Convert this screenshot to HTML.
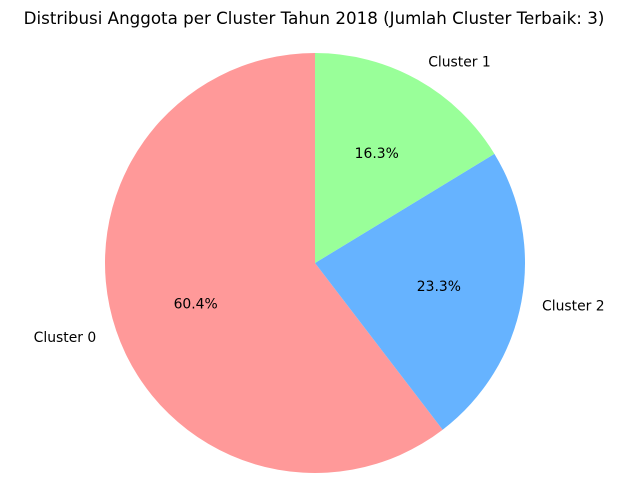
<!DOCTYPE html>
<html><head><meta charset="utf-8"><style>
html,body{margin:0;padding:0;background:#fff;}
svg{display:block;font-family:"DejaVu Sans","Liberation Sans",sans-serif;}
</style></head><body>
<svg id="chart" width="627" height="483" viewBox="0 0 627 483" xmlns="http://www.w3.org/2000/svg">
<text x="314" y="24" text-anchor="middle" font-size="16.7" fill="#000">Distribusi Anggota per Cluster Tahun 2018 (Jumlah Cluster Terbaik: 3)</text>
<g id="slices"></g>
<g id="labels"></g>
</svg>
<script>
const categories = ["Cluster 0", "Cluster 2", "Cluster 1"];
const values = [60.4, 23.3, 16.3];
const colors = ["#ff9999", "#66b3ff", "#99ff99"];

const cx = 315, cy = 263, r = 210;
const ns = "http://www.w3.org/2000/svg";
const total = values.reduce((a, b) => a + b, 0);
const slicesG = document.getElementById("slices");
const labelsG = document.getElementById("labels");
function pt(deg, rad) {
  const a = deg * Math.PI / 180;
  return [cx + rad * Math.cos(a), cy - rad * Math.sin(a)];
}
let start = 90;
values.forEach((v, i) => {
  const sweep = v / total * 360;
  const end = start + sweep;
  const [x1, y1] = pt(start, r);
  const [x2, y2] = pt(end, r);
  const large = sweep > 180 ? 1 : 0;
  const p = document.createElementNS(ns, "path");
  p.setAttribute("d", `M${cx},${cy} L${x1},${y1} A${r},${r} 0 ${large} 0 ${x2},${y2} Z`);
  p.setAttribute("fill", colors[i]);
  
  
  slicesG.appendChild(p);

  const mid = start + sweep / 2;
  const [lx, ly] = pt(mid, r * 1.1);
  const t = document.createElementNS(ns, "text");
  t.setAttribute("x", lx);
  t.setAttribute("y", ly + 5);
  t.setAttribute("font-size", "13.9");
  t.setAttribute("text-anchor", Math.cos(mid * Math.PI / 180) < 0 ? "end" : "start");
  t.textContent = categories[i];
  
  
  labelsG.appendChild(t);

  const [px, py] = pt(mid, r * 0.6);
  const pc = document.createElementNS(ns, "text");
  pc.setAttribute("x", px);
  pc.setAttribute("y", py + 5);
  pc.setAttribute("font-size", "13.9");
  pc.setAttribute("text-anchor", "middle");
  pc.textContent = (v / total * 100).toFixed(1) + "%";
  
  
  labelsG.appendChild(pc);

  start = end;
});
</script>
</body></html>
